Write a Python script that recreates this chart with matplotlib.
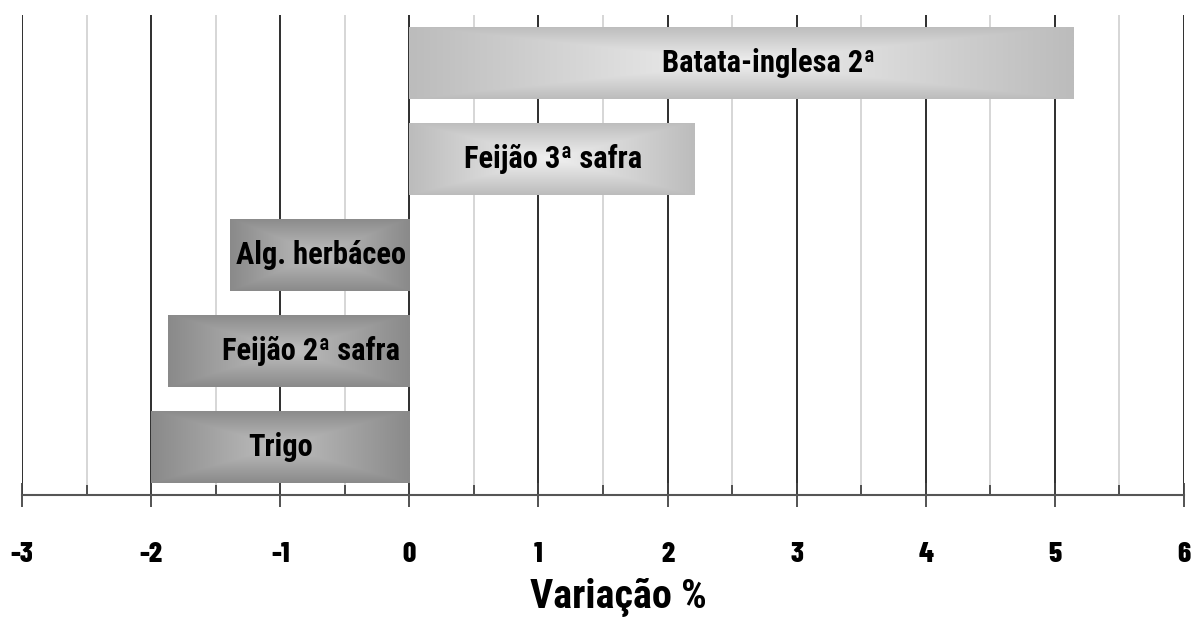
import numpy as np
import matplotlib
matplotlib.use("Agg")
import matplotlib.pyplot as plt
from matplotlib.colors import LinearSegmentedColormap
from matplotlib.ticker import MultipleLocator

# ---- data ----
categories = ["Trigo", "Feijão 2ª safra", "Alg. herbáceo", "Feijão 3ª safra", "Batata-inglesa 2ª"]
values = [-2.0, -1.87, -1.39, 2.21, 5.15]
label_x = [-1.0, -0.76, -0.68, 1.11, 2.78]
xticks = [-3, -2, -1, 0, 1, 2, 3, 4, 5, 6]
xtick_labels = ["-3", "-2", "-1", "0", "1", "2", "3", "4", "5", "6"]
xlabel = "Variação %"

# ---- style ----
FONT = ["Roboto Condensed", "DejaVu Sans"]
TICKFONT = ["Barlow Condensed", "DejaVu Sans"]
plt.rcParams["axes.unicode_minus"] = False
pos_cmap = LinearSegmentedColormap.from_list("pos", ["#bcbcbc", "#f0f0f0"])
neg_cmap = LinearSegmentedColormap.from_list("neg", ["#8a8a8a", "#bfbfbf"])

fig = plt.figure(figsize=(11.93, 6.19), dpi=100)
ax = fig.add_axes([22 / 1193, 124 / 619, (1184 - 22) / 1193, (495 - 15) / 619])

y = np.arange(len(categories))
bars = ax.barh(y, values, height=0.76, color="none", edgecolor="none", zorder=3)

# rectangular gradient from centre
n = 200
gx = np.linspace(-1, 1, n)
GX, GY = np.meshgrid(gx, gx)
grad = 1 - np.maximum(np.abs(GX), np.abs(GY))

for bar, v in zip(bars, values):
    x0, y0 = bar.get_x(), bar.get_y()
    w, h = bar.get_width(), bar.get_height()
    cmap = pos_cmap if v > 0 else neg_cmap
    im = ax.imshow(grad, cmap=cmap, vmin=0, vmax=1, aspect="auto",
                   extent=[x0, x0 + w, y0, y0 + h], interpolation="bilinear",
                   zorder=3, origin="lower")
    im.set_clip_path(bar)

for yi, cat, lx in zip(y, categories, label_x):
    ax.text(lx, yi, cat, ha="center", va="center", fontsize=22,
            fontweight="bold", family=FONT, zorder=5)

ax.set_xlim(-3, 6)
ax.set_ylim(-0.5, len(categories) - 0.5)
ax.xaxis.set_major_locator(MultipleLocator(1))
ax.xaxis.set_minor_locator(MultipleLocator(0.5))
ax.set_xticks(xticks)
ax.set_xticklabels(xtick_labels, fontsize=21, fontweight=800, family=TICKFONT)
ax.set_yticks([])

ax.grid(True, which="major", axis="x", color="#1e1e1e", lw=1.3, zorder=1)
ax.grid(True, which="minor", axis="x", color="#cfcfcf", lw=1.2, zorder=1)
ax.set_axisbelow(True)

for s in ["left", "right", "top"]:
    ax.spines[s].set_visible(False)
ax.spines["bottom"].set_color("#555555")
ax.spines["bottom"].set_linewidth(1.5)

ax.tick_params(axis="x", which="major", direction="inout", length=17, width=1.3,
               color="#444444", pad=25)
ax.tick_params(axis="x", which="minor", direction="in", length=7, width=1.3,
               color="#444444")

ax.set_xlabel(xlabel, fontsize=29, fontweight="bold", family=FONT)
ax.xaxis.set_label_coords(0.513, -0.172)

fig.savefig("out.png", dpi=100)
